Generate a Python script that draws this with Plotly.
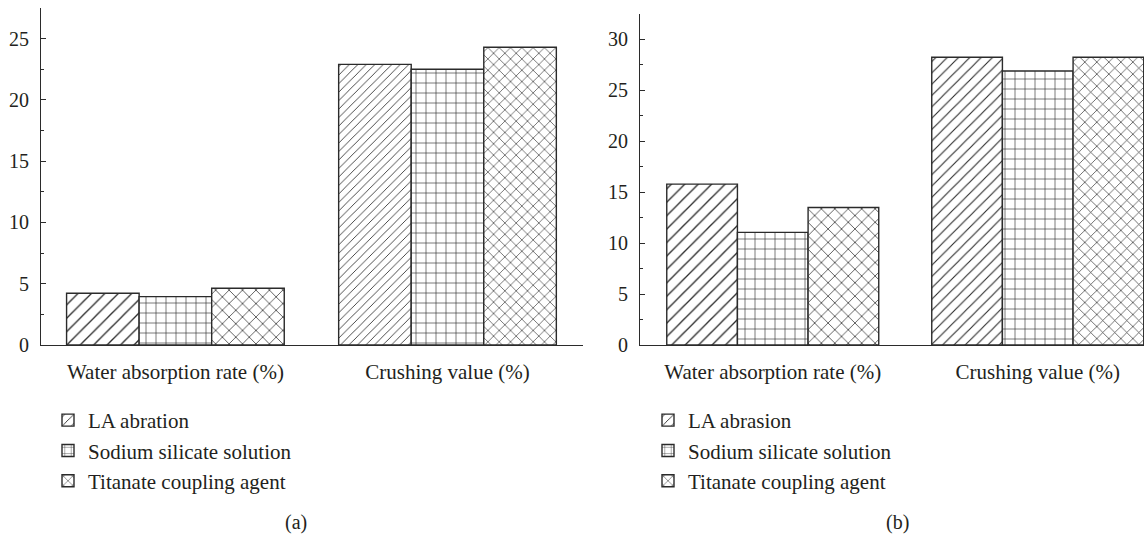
import plotly.graph_objects as go

# ---- data ----
categories = ["Water absorption rate (%)", "Crushing value (%)"]
series_a = ["LA abration", "Sodium silicate solution", "Titanate coupling agent"]
series_b = ["LA abrasion", "Sodium silicate solution", "Titanate coupling agent"]
a_la = [4.22, 22.9]
a_sodium = [3.95, 22.5]
a_titanate = [4.63, 24.3]
b_la = [15.8, 28.26]
b_sodium = [11.06, 26.9]
b_titanate = [13.5, 28.26]

# ---- styles ----
W, H = 1144, 535
INK = "#231f20"
LINE = "#2b2b2b"
FONT = "Liberation Serif"
shapes = ["/", "+", "x"]
psize_a = [[9.5, 6], [10, 10], [9.5, 8]]
psize_b = [[9.5, 8], [10, 10], [9.5, 8.5]]
solid = [0.14, 0.12, 0.15]

fig = go.Figure()

def add(name, y, shape, size, sol, xa, ya, legend):
    fig.add_trace(go.Bar(
        x=categories, y=y, name=name, xaxis=xa, yaxis=ya, legend=legend,
        marker=dict(color="white",
                    line=dict(color=LINE, width=1.4),
                    pattern=dict(shape=shape, size=size, solidity=sol,
                                 fgcolor=LINE, bgcolor="white", fillmode="replace")),
    ))

for nm, ys, sh, sz, so in zip(series_a, [a_la, a_sodium, a_titanate], shapes, psize_a, solid):
    add(nm, ys, sh, sz, so, "x", "y", "legend")
for nm, ys, sh, sz, so in zip(series_b, [b_la, b_sodium, b_titanate], shapes, psize_b, solid):
    add(nm, ys, sh, sz, so, "x2", "y2", "legend2")

def px(x):
    return x / W

def py(y):
    return (H - y) / H

yax_common = dict(
    showline=True, linecolor=LINE, linewidth=1.2, showgrid=False, zeroline=False,
    ticks="inside", ticklen=5, tickwidth=1.2, tickcolor=LINE, dtick=5, tick0=0,
    tickfont=dict(family=FONT, size=20, color=INK), ticklabelstandoff=7,
    minor=dict(ticks="inside", ticklen=3, tickwidth=1, tickcolor=LINE, dtick=2.5),
    automargin=False,
)
xax_common = dict(
    showline=True, linecolor=LINE, linewidth=1.2, showgrid=False, zeroline=False,
    ticks="", tickfont=dict(family=FONT, size=21, color=INK), ticklabelstandoff=8,
    type="category", automargin=False,
)

fig.update_layout(
    width=W, height=H, margin=dict(l=0, r=0, t=0, b=0, autoexpand=False),
    paper_bgcolor="white", plot_bgcolor="white",
    barmode="group", bargap=0.2, bargroupgap=0,
    font=dict(family=FONT, color=INK, size=21),
    xaxis=dict(domain=[px(41), px(583)], anchor="y", range=[-0.494, 1.498], **xax_common),
    yaxis=dict(domain=[py(345), py(8)], anchor="x", range=[0, 27.5], **yax_common),
    xaxis2=dict(domain=[px(640), 1.0], anchor="y2", range=[-0.501, 1.401], **xax_common),
    yaxis2=dict(domain=[py(345), py(14)], anchor="x2", range=[0, 32.5], **yax_common),
    legend=dict(x=px(48), y=py(400), xanchor="left", yanchor="top",
                font=dict(family=FONT, size=21, color=INK), bgcolor="rgba(0,0,0,0)"),
    legend2=dict(x=px(648), y=py(400), xanchor="left", yanchor="top",
                 font=dict(family=FONT, size=21, color=INK), bgcolor="rgba(0,0,0,0)"),
    showlegend=True,
    annotations=[
        dict(text="(a)", x=px(296), y=py(522), xref="paper", yref="paper",
             xanchor="center", yanchor="middle",
             showarrow=False, font=dict(family=FONT, size=20, color=INK)),
        dict(text="(b)", x=px(897), y=py(522), xref="paper", yref="paper",
             xanchor="center", yanchor="middle",
             showarrow=False, font=dict(family=FONT, size=20, color=INK)),
    ],
)

fig.write_html("out.html")
